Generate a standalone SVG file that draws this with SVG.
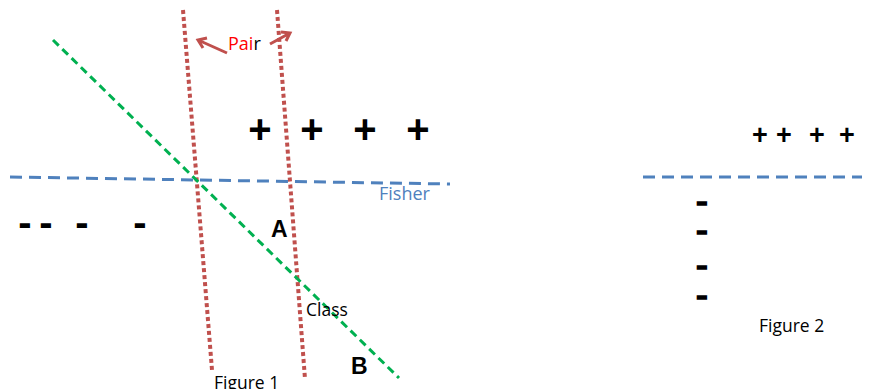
<svg xmlns="http://www.w3.org/2000/svg" width="869" height="389" viewBox="0 0 869 389">
<style>
.red{stroke:#c0504d;stroke-width:4;stroke-dasharray:4 3;fill:none}
.green{stroke:#00b050;stroke-width:3;stroke-dasharray:8 5;fill:none}
.blue{stroke:#4f81bd;stroke-width:3;stroke-dasharray:12 7;fill:none}
.arr{stroke:#c0504d;stroke-width:3;fill:none}
.sym{font-family:"Liberation Sans",Arial,sans-serif;font-weight:bold;fill:#000;text-anchor:middle}
.lbl{font-family:"Open Sans","Liberation Sans",sans-serif;font-size:17.5px;fill:#000}
.big{font-family:"Liberation Sans",Arial,sans-serif;font-weight:bold;font-size:23px;fill:#000}
</style>
<rect width="869" height="389" fill="#fff"/>
<g id="connectors">
<line class="red" x1="183" y1="10" x2="212" y2="370"/>
<line class="red" x1="277" y1="10" x2="305" y2="379"/>
<line class="green" x1="53" y1="40" x2="399" y2="378"/>
<line class="blue" x1="10" y1="177" x2="450" y2="184"/>
<line class="blue" x1="643" y1="177" x2="862" y2="177"/>
<path class="arr" d="M227 53 L198 40 M207 38 L198 40 L203 48"/>
<path class="arr" d="M270 44 L290 33 M281 32 L290 33 L286 41"/>
</g>
<g id="pair"><text x="228" y="50" font-family="'Open Sans','Liberation Sans',sans-serif" font-size="18"><tspan fill="#ff0000">Pai</tspan><tspan fill="#000">r</tspan></text></g>
<g id="fisher"><text x="379" y="200" font-family="'Open Sans','Liberation Sans',sans-serif" font-size="18" fill="#4f81bd">Fisher</text></g>
<g id="class"><text class="lbl" x="306" y="316">Class</text></g>
<g id="figure1"><text class="lbl" x="214" y="389" font-size="18.5">Figure 1</text></g>
<g id="figure2"><text class="lbl" x="759" y="332" font-size="19.5">Figure 2</text></g>
<g id="labelA"><text class="big" x="271" y="237">A</text></g>
<g id="labelB"><text class="big" x="351" y="374">B</text></g>
<g id="plus1" class="sym" font-size="40">
<text x="260" y="143">+</text><text x="312" y="143">+</text><text x="365" y="143">+</text><text x="418" y="143">+</text>
</g>
<g id="minus1" class="sym" font-size="40">
<text x="25" y="236">-</text><text x="46" y="236">-</text><text x="82" y="236">-</text><text x="140" y="236">-</text>
</g>
<g id="plus2" class="sym" font-size="27">
<text x="760" y="144">+</text><text x="784" y="144">+</text><text x="817" y="144">+</text><text x="847" y="144">+</text>
</g>
<g id="minus2" class="sym" font-size="24" stroke="#000" stroke-width="1.6" transform="translate(702,0) scale(1.35,1)">
<text x="0" y="210">-</text><text x="0" y="239">-</text><text x="0" y="274">-</text><text x="0" y="304">-</text>
</g>
</svg>
